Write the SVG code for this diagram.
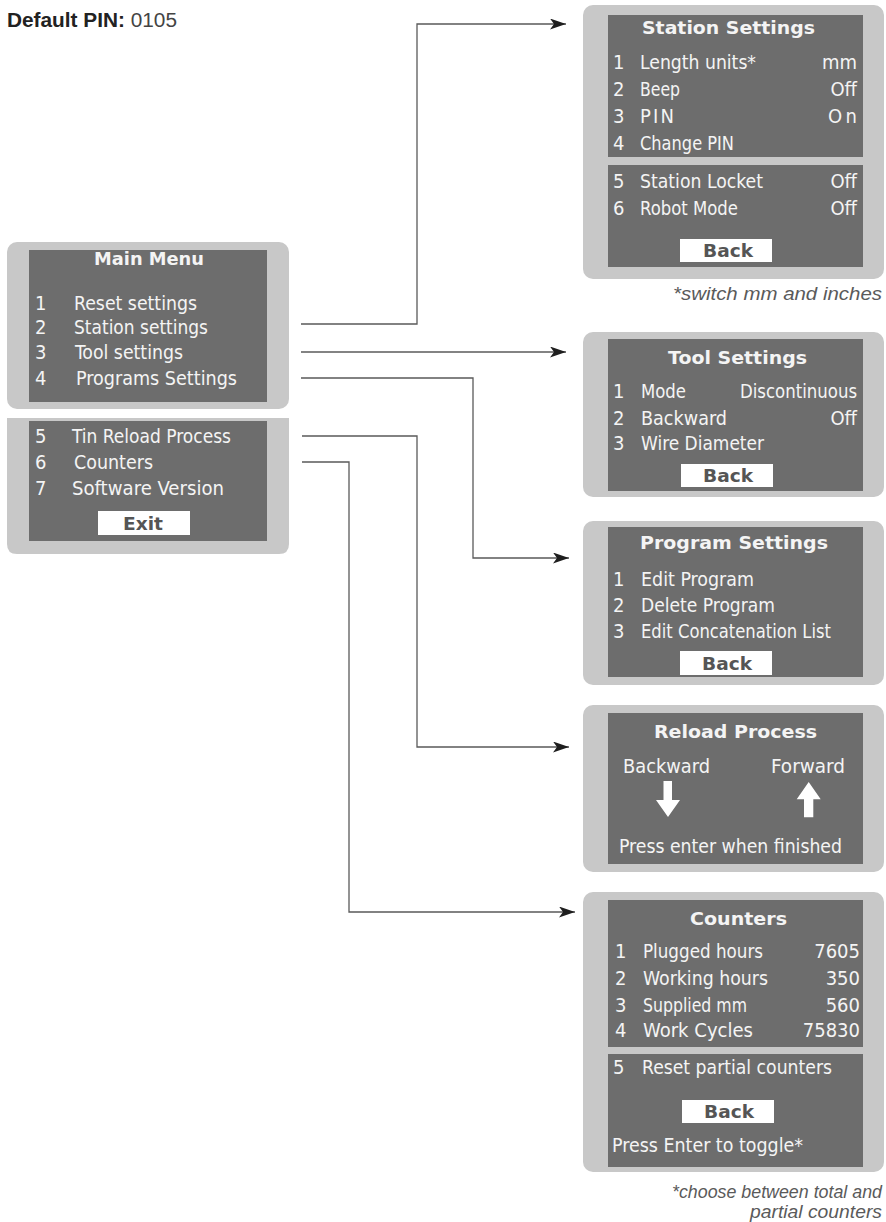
<svg xmlns="http://www.w3.org/2000/svg" width="886" height="1222" viewBox="0 0 886 1222">
<defs>
<style>
.outer{fill:#c8c8c8}
.inner{fill:#6d6d6d}
.btn{fill:#ffffff}
.t{font-family:"DejaVu Sans Condensed","DejaVu Sans","Liberation Sans Narrow",sans-serif;font-stretch:condensed;font-size:20px;fill:#f4f4f4}
.h{font-family:"DejaVu Sans","Liberation Sans",sans-serif;font-weight:bold;font-size:18px;fill:#f4f4f4}
.b{font-family:"DejaVu Sans","Liberation Sans",sans-serif;font-weight:bold;font-size:17px;fill:#555555;text-anchor:middle}
.r{text-anchor:end}
.note{font-family:"Liberation Sans",Arial,sans-serif;font-style:italic;font-size:18px;fill:#5a5a5a;text-anchor:end}
.conn{fill:none;stroke:#5a5a5a;stroke-width:1.3}
</style>
<marker id="ah" markerUnits="userSpaceOnUse" markerWidth="18" markerHeight="12" refX="16" refY="5.5" orient="auto">
<path d="M0,0 L16,5.5 L0,11 L4,5.5 Z" fill="#1e1e1e"/>
</marker>
</defs>
<rect width="886" height="1222" fill="#ffffff"/>

<g id="default-pin">
<text x="7" y="27" font-family="'Liberation Sans',Arial,sans-serif" font-size="20px" fill="#222" textLength="170" lengthAdjust="spacingAndGlyphs"><tspan font-weight="bold">Default PIN:</tspan><tspan fill="#444"> 0105</tspan></text>
</g>

<g id="connectors">
<path class="conn" d="M301,324 H417 V24 H566" marker-end="url(#ah)"/>
<path class="conn" d="M301,352 H566" marker-end="url(#ah)"/>
<path class="conn" d="M301,378 H473 V558 H569" marker-end="url(#ah)"/>
<path class="conn" d="M302,436 H417 V747 H569" marker-end="url(#ah)"/>
<path class="conn" d="M302,462 H349 V912 H575" marker-end="url(#ah)"/>
</g>

<g id="main-menu">
<rect class="outer" x="7" y="242" width="282" height="167" rx="10"/>
<path class="outer" d="M7,418 H289 V544 Q289,554 279,554 H17 Q7,554 7,544 Z"/>
<rect class="inner" x="29" y="250" width="238" height="152"/>
<rect class="inner" x="29" y="421" width="238" height="120"/>
<text class="h" x="94" y="265" textLength="110" lengthAdjust="spacingAndGlyphs">Main Menu</text>
<text class="t" x="35" y="310">1</text>
<text class="t" x="74" y="310" textLength="123" lengthAdjust="spacingAndGlyphs">Reset settings</text>
<text class="t" x="35" y="334">2</text>
<text class="t" x="74" y="334" textLength="134" lengthAdjust="spacingAndGlyphs">Station settings</text>
<text class="t" x="35" y="359">3</text>
<text class="t" x="75" y="359" textLength="108" lengthAdjust="spacingAndGlyphs">Tool settings</text>
<text class="t" x="35" y="385">4</text>
<text class="t" x="76" y="385" textLength="161" lengthAdjust="spacingAndGlyphs">Programs Settings</text>
<text class="t" x="35" y="443">5</text>
<text class="t" x="72" y="443" textLength="159" lengthAdjust="spacingAndGlyphs">Tin Reload Process</text>
<text class="t" x="35" y="469">6</text>
<text class="t" x="74" y="469" textLength="79" lengthAdjust="spacingAndGlyphs">Counters</text>
<text class="t" x="35" y="495">7</text>
<text class="t" x="72" y="495" textLength="152" lengthAdjust="spacingAndGlyphs">Software Version</text>
<rect class="btn" x="98" y="511" width="92" height="24"/>
<text class="b" x="143" y="530" textLength="40" lengthAdjust="spacingAndGlyphs">Exit</text>
</g>

<g id="station-settings">
<rect class="outer" x="583" y="5" width="301" height="274" rx="10"/>
<rect class="inner" x="608" y="15" width="255" height="142"/>
<rect class="inner" x="608" y="165" width="255" height="102"/>
<text class="h" x="642" y="34" textLength="173" lengthAdjust="spacingAndGlyphs">Station Settings</text>
<text class="t" x="613" y="69">1</text>
<text class="t" x="640" y="69" textLength="116" lengthAdjust="spacingAndGlyphs">Length units*</text>
<text class="t r" x="857" y="69">mm</text>
<text class="t" x="613" y="96">2</text>
<text class="t" x="640" y="96" textLength="40" lengthAdjust="spacingAndGlyphs">Beep</text>
<text class="t r" x="857" y="96">Off</text>
<text class="t" x="613" y="123">3</text>
<text class="t" x="640" y="123" textLength="34" lengthAdjust="spacing">PIN</text>
<text class="t" x="828" y="123" textLength="29" lengthAdjust="spacing">On</text>
<text class="t" x="613" y="150">4</text>
<text class="t" x="640" y="150" textLength="94" lengthAdjust="spacingAndGlyphs">Change PIN</text>
<text class="t" x="613" y="188">5</text>
<text class="t" x="640" y="188" textLength="123" lengthAdjust="spacingAndGlyphs">Station Locket</text>
<text class="t r" x="857" y="188">Off</text>
<text class="t" x="613" y="215">6</text>
<text class="t" x="640" y="215" textLength="98" lengthAdjust="spacingAndGlyphs">Robot Mode</text>
<text class="t r" x="857" y="215">Off</text>
<rect class="btn" x="680" y="239" width="92" height="23"/>
<text class="b" x="728" y="257" textLength="50" lengthAdjust="spacingAndGlyphs">Back</text>
</g>
<text class="note" x="882" y="300" textLength="209" lengthAdjust="spacingAndGlyphs">*switch mm and inches</text>

<g id="tool-settings">
<rect class="outer" x="583" y="332" width="301" height="165" rx="10"/>
<rect class="inner" x="608" y="339" width="255" height="152"/>
<text class="h" x="668" y="364" textLength="139" lengthAdjust="spacingAndGlyphs">Tool Settings</text>
<text class="t" x="613" y="398">1</text>
<text class="t" x="641" y="398" textLength="45" lengthAdjust="spacingAndGlyphs">Mode</text>
<text class="t" x="740" y="398" textLength="117" lengthAdjust="spacingAndGlyphs">Discontinuous</text>
<text class="t" x="613" y="425">2</text>
<text class="t" x="641" y="425" textLength="86" lengthAdjust="spacingAndGlyphs">Backward</text>
<text class="t r" x="857" y="425">Off</text>
<text class="t" x="613" y="450">3</text>
<text class="t" x="641" y="450" textLength="123" lengthAdjust="spacingAndGlyphs">Wire Diameter</text>
<rect class="btn" x="681" y="464" width="92" height="23"/>
<text class="b" x="728" y="482" textLength="50" lengthAdjust="spacingAndGlyphs">Back</text>
</g>

<g id="program-settings">
<rect class="outer" x="583" y="521" width="301" height="164" rx="10"/>
<rect class="inner" x="608" y="527" width="255" height="150"/>
<text class="h" x="640" y="549" textLength="188" lengthAdjust="spacingAndGlyphs">Program Settings</text>
<text class="t" x="613" y="586">1</text>
<text class="t" x="641" y="586" textLength="113" lengthAdjust="spacingAndGlyphs">Edit Program</text>
<text class="t" x="613" y="612">2</text>
<text class="t" x="641" y="612" textLength="134" lengthAdjust="spacingAndGlyphs">Delete Program</text>
<text class="t" x="613" y="638">3</text>
<text class="t" x="641" y="638" textLength="190" lengthAdjust="spacingAndGlyphs">Edit Concatenation List</text>
<rect class="btn" x="680" y="651" width="92" height="24"/>
<text class="b" x="727" y="670" textLength="50" lengthAdjust="spacingAndGlyphs">Back</text>
</g>

<g id="reload-process">
<rect class="outer" x="583" y="705" width="301" height="167" rx="10"/>
<rect class="inner" x="608" y="713" width="255" height="151"/>
<text class="h" x="654" y="738" textLength="163" lengthAdjust="spacingAndGlyphs">Reload Process</text>
<text class="t" x="623" y="773" textLength="87" lengthAdjust="spacingAndGlyphs">Backward</text>
<text class="t" x="771" y="773" textLength="74" lengthAdjust="spacingAndGlyphs">Forward</text>
<path d="M663.5,781 H672 V800 H680 L668,817 L656,800 H663.5 Z" fill="#ffffff"/>
<path d="M808.7,782 L820.7,799.3 H813.3 V817.3 H804 V799.3 H796.7 Z" fill="#ffffff"/>
<text class="t" x="619" y="853" textLength="223" lengthAdjust="spacingAndGlyphs">Press enter when finished</text>
</g>

<g id="counters">
<rect class="outer" x="583" y="892" width="301" height="280" rx="10"/>
<rect class="inner" x="608" y="900" width="255" height="147"/>
<rect class="inner" x="608" y="1054" width="255" height="113"/>
<text class="h" x="690" y="925" textLength="97" lengthAdjust="spacingAndGlyphs">Counters</text>
<text class="t" x="615" y="958">1</text>
<text class="t" x="643" y="958" textLength="120" lengthAdjust="spacingAndGlyphs">Plugged hours</text>
<text class="t r" x="860" y="958">7605</text>
<text class="t" x="615" y="985">2</text>
<text class="t" x="643" y="985" textLength="125" lengthAdjust="spacingAndGlyphs">Working hours</text>
<text class="t r" x="860" y="985">350</text>
<text class="t" x="615" y="1012">3</text>
<text class="t" x="643" y="1012" textLength="104" lengthAdjust="spacingAndGlyphs">Supplied mm</text>
<text class="t r" x="860" y="1012">560</text>
<text class="t" x="615" y="1037">4</text>
<text class="t" x="643" y="1037" textLength="110" lengthAdjust="spacingAndGlyphs">Work Cycles</text>
<text class="t r" x="860" y="1037">75830</text>
<text class="t" x="613" y="1074">5</text>
<text class="t" x="642" y="1074" textLength="190" lengthAdjust="spacingAndGlyphs">Reset partial counters</text>
<rect class="btn" x="682" y="1100" width="92" height="23"/>
<text class="b" x="729" y="1118" textLength="50" lengthAdjust="spacingAndGlyphs">Back</text>
<text class="t" x="612" y="1152" textLength="191" lengthAdjust="spacingAndGlyphs">Press Enter to toggle*</text>
</g>
<text class="note" x="882" y="1198" textLength="210" lengthAdjust="spacingAndGlyphs">*choose between total and</text>
<text class="note" x="882" y="1218" textLength="132" lengthAdjust="spacingAndGlyphs">partial counters</text>
</svg>
